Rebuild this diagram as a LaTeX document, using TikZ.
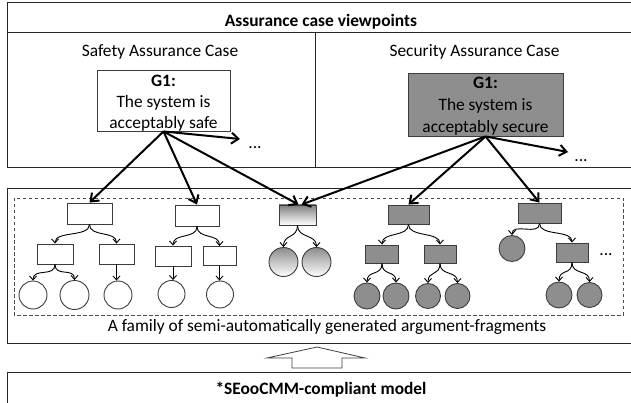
\documentclass[tikz,border=0pt]{standalone}
\usepackage{fontspec}
\setmainfont{Carlito}
\usetikzlibrary{arrows.meta}
\definecolor{dk}{HTML}{8E8E8E}
\definecolor{ln}{HTML}{3C3C3C}
\begin{document}
\begin{tikzpicture}[x=1pt,y=-1pt,
  frame/.style={draw=black!85, line width=1pt},
  txt/.style={font=\fontsize{17.4}{21.5}\selectfont, inner sep=0pt, anchor=base},
  btxt/.style={font=\fontsize{17.4}{21.5}\selectfont\bfseries, inner sep=0pt, anchor=base},
  wbox/.style={draw=ln, fill=white, line width=0.9pt, inner sep=0pt},
  dbox/.style={draw=ln, fill=dk, line width=0.9pt, inner sep=0pt},
  gbox/.style={draw=ln, top color=black!50, bottom color=white, line width=0.9pt, inner sep=0pt},
  wc/.style={circle, draw=ln, fill=white, line width=0.9pt, inner sep=0pt},
  dc/.style={circle, draw=ln, fill=dk, line width=0.9pt, inner sep=0pt},
  gc/.style={circle, draw=ln, top color=black!45, bottom color=white, line width=0.9pt, inner sep=0pt},
  sa/.style={draw=black, line width=0.9pt, -{Straight Barb[length=4pt,width=7pt]}},
  ba/.style={draw=black, line width=2pt, -{Straight Barb[length=7pt,width=11pt]}}]
\useasboundingbox (0,0) rectangle (631,403);
\clip (0,0) rectangle (631,403);

% frames
\draw[frame] (7,3) rectangle (645,168);
\draw[frame] (7,33) -- (645,33);
\draw[frame] (315,33) -- (315,168);
\draw[frame] (7,189) rectangle (645,343);
\draw[draw=black!70, line width=0.9pt, dash pattern=on 3.5pt off 2.5pt] (14,198) rectangle (623,315);
\draw[frame] (7,372) rectangle (645,420);

% titles
\node[btxt] (title) at (321,27) {Assurance case viewpoints};
\node[txt] (safetitle) at (160,57) {Safety Assurance Case};
\node[txt] (sectitle) at (474.5,57) {Security Assurance Case};
\node[txt] (caption) at (327,331) {A family of semi-automatically generated argument-fragments};
\node[btxt] (model) at (321,394) {*SEooCMM-compliant model};

% G1 boxes
\node[wbox, minimum width=133pt, minimum height=61pt] (g1s) at (163.5,100.5) {};
\node[font=\fontsize{17.4}{21}\selectfont, align=center, inner sep=0pt, anchor=north] (g1stxt) at (163.5,75) {\textbf{G1:}\\The system is\\acceptably safe};
\node[dbox, minimum width=155pt, minimum height=63pt] (g1x) at (485.5,104.5) {};
\node[font=\fontsize{17.4}{22}\selectfont, align=center, inner sep=0pt, anchor=north] (g1xtxt) at (485.5,77) {\textbf{G1:}\\The system is\\acceptably secure};

\node[txt] (dots1) at (255,149) {...};
\node[txt] (dots2) at (581,162) {...};
\node[txt] (dots3) at (606,255) {...};
\coordinate (d1) at (240,139);
\coordinate (d2) at (568,152);

% Tree 1
\node[wbox, minimum width=45pt, minimum height=21pt] (t1r) at (89.5,213.5) {};
\node[wbox, minimum width=36pt, minimum height=20pt] (t1a) at (55,254) {};
\node[wbox, minimum width=35pt, minimum height=20pt] (t1b) at (116.5,254) {};
\node[wc, minimum size=28pt] (t1c1) at (33,295) {};
\node[wc, minimum size=29pt] (t1c2) at (74.5,295) {};
\node[wc, minimum size=28pt] (t1c3) at (118,295) {};
% Tree 2
\node[wbox, minimum width=44pt, minimum height=21pt] (t2r) at (197,215.5) {};
\node[wbox, minimum width=36pt, minimum height=20pt] (t2a) at (173,256) {};
\node[wbox, minimum width=33pt, minimum height=19pt] (t2b) at (219.5,256) {};
\node[wc, minimum size=27pt] (t2c1) at (171.5,294) {};
\node[wc, minimum size=27pt] (t2c2) at (220,294.5) {};
% Tree 3
\node[gbox, minimum width=37pt, minimum height=20pt] (t3r) at (297.5,215) {};
\node[gc, minimum size=29pt] (t3c1) at (283.5,262) {};
\node[gc, minimum size=29pt] (t3c2) at (316.5,262) {};
% Tree 4
\node[dbox, minimum width=41pt, minimum height=19pt] (t4r) at (408.5,214.5) {};
\node[dbox, minimum width=33pt, minimum height=18pt] (t4a) at (382,254) {};
\node[dbox, minimum width=32pt, minimum height=18pt] (t4b) at (440,254) {};
\node[dc, minimum size=26pt] (t4c1) at (367,296) {};
\node[dc, minimum size=26pt] (t4c2) at (396,296) {};
\node[dc, minimum size=25pt] (t4c3) at (428,296) {};
\node[dc, minimum size=25pt] (t4c4) at (457.5,296) {};
% Tree 5
\node[dbox, minimum width=43pt, minimum height=20pt] (t5r) at (539.5,213) {};
\node[dc, minimum size=26pt] (t5c0) at (512,248.5) {};
\node[dbox, minimum width=32pt, minimum height=19pt] (t5a) at (572,252.5) {};
\node[dc, minimum size=26pt] (t5c1) at (559,295) {};
\node[dc, minimum size=25pt] (t5c2) at (589.5,295) {};

% small arrows
\foreach \p/\c in {t1r/t1a,t1r/t1b,t1a/t1c1,t1a/t1c2,t2r/t2a,t2r/t2b,t3r/t3c1,t3r/t3c2,
                   t4r/t4a,t4r/t4b,t4a/t4c1,t4a/t4c2,t4b/t4c3,t4b/t4c4,t5r/t5c0,t5r/t5a,t5a/t5c1,t5a/t5c2}
  \draw[sa] (\p.south) .. controls +(0,13) and +(0,-13) .. (\c.north);
\draw[sa] (t1b.south) -- (t1b.south |- t1c3.north);
\draw[sa] (t2a.south) -- (t2a.south |- t2c1.north);
\draw[sa] (t2b.south) -- (t2b.south |- t2c2.north);

% big arrows
\draw[ba] (g1s.south) -- (t1r.north);
\draw[ba] (g1s.south) -- (t2r.north);
\draw[ba] (g1s.south) -- ([xshift=1pt]t3r.north);
\draw[ba] (g1s.south) -- (d1);
\draw[ba] (g1x.south) -- ([xshift=4pt]t3r.north);
\draw[ba] (g1x.south) -- (t4r.north);
\draw[ba] (g1x.south) -- (t5r.north);
\draw[ba] (g1x.south) -- (d2);

% hollow block arrow
\draw[draw=black!75, fill=white, line width=0.8pt] (317,347) -- (365,358) -- (342,358) -- (342,368) -- (292,368) -- (292,358) -- (267,358) -- cycle;
\end{tikzpicture}
\end{document}
